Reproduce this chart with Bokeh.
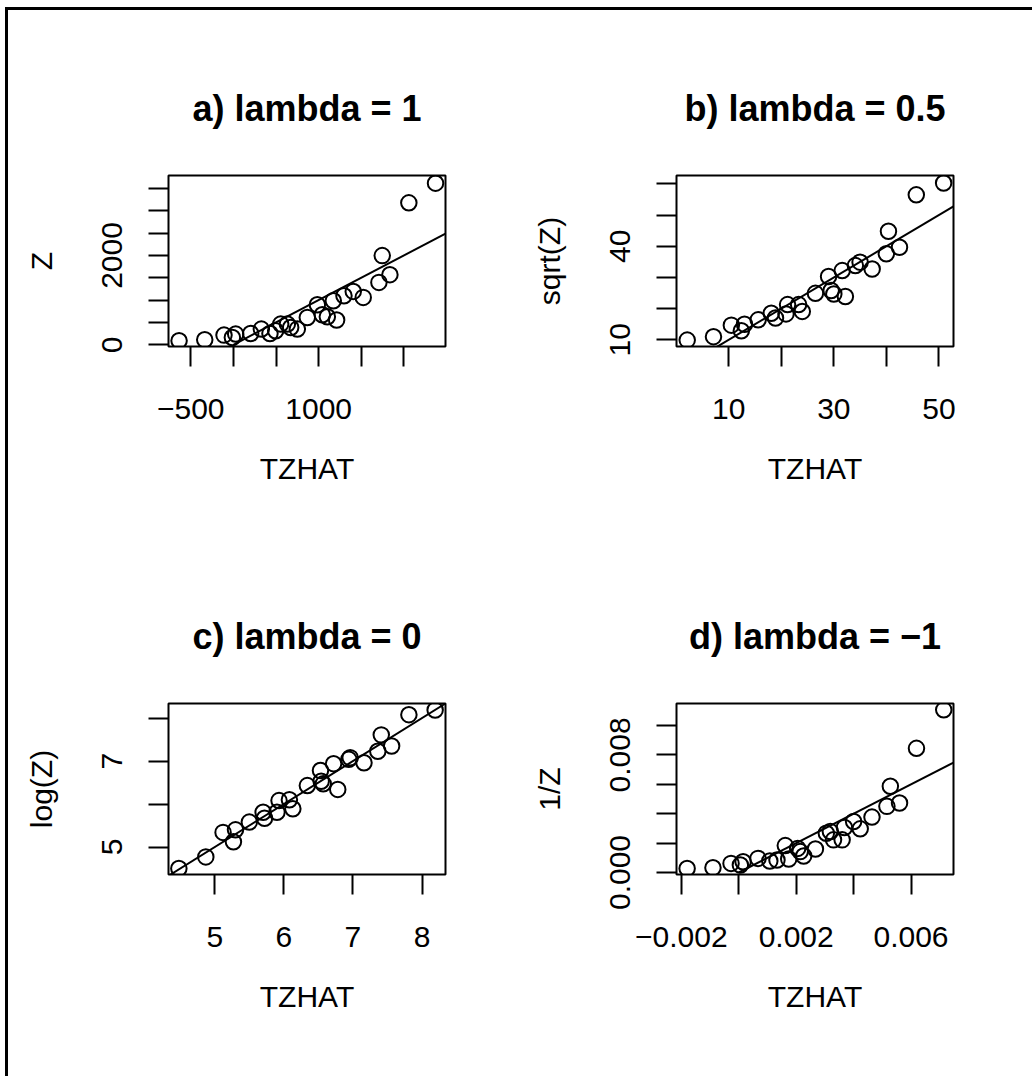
from bokeh.plotting import figure
from bokeh.layouts import column, row
from bokeh.models import FixedTicker, Range1d
from bokeh.embed import file_html
from bokeh.resources import INLINE

FONT = "Liberation Sans"

# ---- data ----
tzhat_a = [-637, -336, -110, -12, 27, 203, 328, 429, 496, 555, 633, 672, 750, 867,
           985, 1043, 1102, 1172, 1211, 1297, 1406, 1523, 1707, 1746, 1836, 2058, 2371]
z_a = [90, 112, 217, 164, 240, 253, 352, 253, 314, 464, 464, 388, 352, 612,
       897, 673, 628, 987, 554, 1099, 1195, 1061, 1397, 1996, 1570, 3177, 3617]

tzhat_b = [2.1, 7.1, 10.5, 12.4, 13.0, 15.6, 18.1, 18.9, 20.9, 21.2, 23.3, 24.0, 26.5,
           29.0, 29.5, 30.0, 31.6, 32.2, 34.1, 35.0, 37.3, 40.0, 40.4, 42.5, 45.7, 50.9]
sqrtz_b = [9.9, 11.0, 14.7, 12.9, 15.0, 16.4, 18.5, 17.0, 18.3, 21.3, 21.3, 19.1, 24.9,
           30.3, 25.8, 24.7, 32.2, 23.9, 33.8, 34.9, 32.7, 37.6, 44.8, 39.7, 56.5, 60.3]

tzhat_c = [4.48, 4.87, 5.12, 5.27, 5.30, 5.50, 5.70, 5.72, 5.90, 5.93, 6.08, 6.13, 6.34,
           6.53, 6.54, 6.57, 6.72, 6.78, 6.94, 6.96, 7.16, 7.36, 7.41, 7.56, 7.81, 8.19]
logz_c = [4.50, 4.77, 5.34, 5.12, 5.40, 5.58, 5.81, 5.67, 5.81, 6.08, 6.10, 5.89, 6.43,
          6.78, 6.53, 6.47, 6.94, 6.34, 7.04, 7.08, 6.96, 7.23, 7.61, 7.35, 8.08, 8.19]

tzhat_d = [-0.0018, -0.0009, -0.00027, 0.000055, 0.00015, 0.00067, 0.00108, 0.00133,
           0.00162, 0.00174, 0.00205, 0.00214, 0.00226, 0.00267, 0.00305, 0.00319,
           0.0033, 0.0036, 0.00368, 0.0040, 0.00423, 0.00464, 0.00516, 0.00528,
           0.0056, 0.00619, 0.00714]
invz_d = [0.00027, 0.00032, 0.00062, 0.00051, 0.00073, 0.00096, 0.00078, 0.00085,
          0.00183, 0.00092, 0.00164, 0.00142, 0.00112, 0.0016, 0.00267, 0.00279,
          0.00222, 0.00222, 0.00306, 0.00347, 0.00297, 0.00377, 0.0045, 0.00587,
          0.00473, 0.00845, 0.01107]

# reference line y = intercept + slope * x, drawn from x = 0
fit_intercept = 0.0
fit_slope = 1.0

titles = ["a) lambda = 1", "b) lambda = 0.5", "c) lambda = 0", "d) lambda = \u22121"]
ylabels = ["Z", "sqrt(Z)", "log(Z)", "1/Z"]
xlabel = "TZHAT"

xticks_a = [-500, 0, 500, 1000, 1500, 2000]
xticklabels_a = ["\u2212500", "", "", "1000", "", ""]
yticks_a = [0, 500, 1000, 1500, 2000, 2500, 3000, 3500]
yticklabels_a = ["0", "", "", "", "2000", "", "", ""]

xticks_b = [10, 20, 30, 40, 50]
xticklabels_b = ["10", "", "30", "", "50"]
yticks_b = [10, 20, 30, 40, 50, 60]
yticklabels_b = ["10", "", "", "40", "", ""]

xticks_c = [5, 6, 7, 8]
xticklabels_c = ["5", "6", "7", "8"]
yticks_c = [5, 6, 7, 8]
yticklabels_c = ["5", "", "7", ""]

xticks_d = [-0.002, 0.0, 0.002, 0.004, 0.006]
xticklabels_d = ["\u22120.002", "", "0.002", "", "0.006"]
yticks_d = [0.0, 0.002, 0.004, 0.006, 0.008, 0.010]
yticklabels_d = ["0.000", "", "", "", "0.008", ""]

ranges = [
    ((-761, 2488), (-38, 3789)),
    ((0.06, 52.78), (7.85, 62.7)),
    ((4.33, 8.34), (4.36, 8.34)),
    ((-0.00217, 0.00748), (-0.000137, 0.0115)),
]


def make_panel(title, xs, ys, rng, xt, xtl, yt, ytl, ylab, w, h, mbl, mbr, mbt, mbb):
    (x0, x1), (y0, y1) = rng
    p = figure(width=w, height=h, x_range=Range1d(x0, x1), y_range=Range1d(y0, y1),
               output_backend="svg", toolbar_location=None, title=title,
               min_border_left=mbl, min_border_right=mbr,
               min_border_top=mbt, min_border_bottom=mbb,
               background_fill_color="white", border_fill_color="white")
    p.title.align = "center"
    p.title.text_font = FONT
    p.title.text_font_size = "36px"
    p.title.text_font_style = "bold"
    p.title.text_color = "black"
    p.title.standoff = 94
    p.grid.visible = False
    p.outline_line_color = "black"
    p.outline_line_width = 2
    p.outline_line_alpha = 1

    for ax in (p.xaxis, p.yaxis):
        ax.axis_line_color = None
        ax.minor_tick_line_color = None
        ax.major_tick_in = 0
        ax.major_tick_out = 20
        ax.major_tick_line_width = 2
        ax.major_tick_line_color = "black"
        ax.major_label_text_font = FONT
        ax.major_label_text_font_size = "30px"
        ax.major_label_text_color = "black"
        ax.axis_label_text_font = FONT
        ax.axis_label_text_font_size = "30px"
        ax.axis_label_text_font_style = "normal"
        ax.axis_label_text_color = "black"

    p.xaxis.ticker = FixedTicker(ticks=xt)
    p.xaxis.major_label_overrides = {t: l for t, l in zip(xt, xtl)}
    p.yaxis.ticker = FixedTicker(ticks=yt)
    p.yaxis.major_label_overrides = {t: l for t, l in zip(yt, ytl)}
    p.yaxis.major_label_orientation = "vertical"
    p.xaxis.major_label_standoff = 32
    p.yaxis.major_label_standoff = 26
    p.xaxis.axis_label = xlabel
    p.yaxis.axis_label = ylab
    p.xaxis.axis_label_standoff = 30
    p.yaxis.axis_label_standoff = 42

    lx = [0.0, x1]
    ly = [fit_intercept + fit_slope * v for v in lx]
    p.line(lx, ly, line_color="black", line_width=2)
    p.scatter(xs, ys, marker="circle", size=15.5, fill_color=None,
              line_color="black", line_width=2)
    return p


W1, W2 = 508, 516
H1, H2 = 528, 538
FW, FH = 277, 171

pa = make_panel(titles[0], tzhat_a, z_a, ranges[0], xticks_a, xticklabels_a,
                yticks_a, yticklabels_a, ylabels[0], W1, H1, 160, W1 - 160 - FW, 165, H1 - 165 - FH)
pb = make_panel(titles[1], tzhat_b, sqrtz_b, ranges[1], xticks_b, xticklabels_b,
                yticks_b, yticklabels_b, ylabels[1], W2, H1, 160, W2 - 160 - FW, 165, H1 - 165 - FH)
pc = make_panel(titles[2], tzhat_c, logz_c, ranges[2], xticks_c, xticklabels_c,
                yticks_c, yticklabels_c, ylabels[2], W1, H2, 160, W1 - 160 - FW, 165, H2 - 165 - FH)
pd = make_panel(titles[3], tzhat_d, invz_d, ranges[3], xticks_d, xticklabels_d,
                yticks_d, yticklabels_d, ylabels[3], W2, H2, 160, W2 - 160 - FW, 165, H2 - 165 - FH)

layout = column(row(pa, pb), row(pc, pd),
                styles={"border-top": "3px solid black", "border-left": "3px solid black",
                        "margin-left": "5px", "margin-top": "7px"})

open("out.html", "w").write(file_html(layout, INLINE))
